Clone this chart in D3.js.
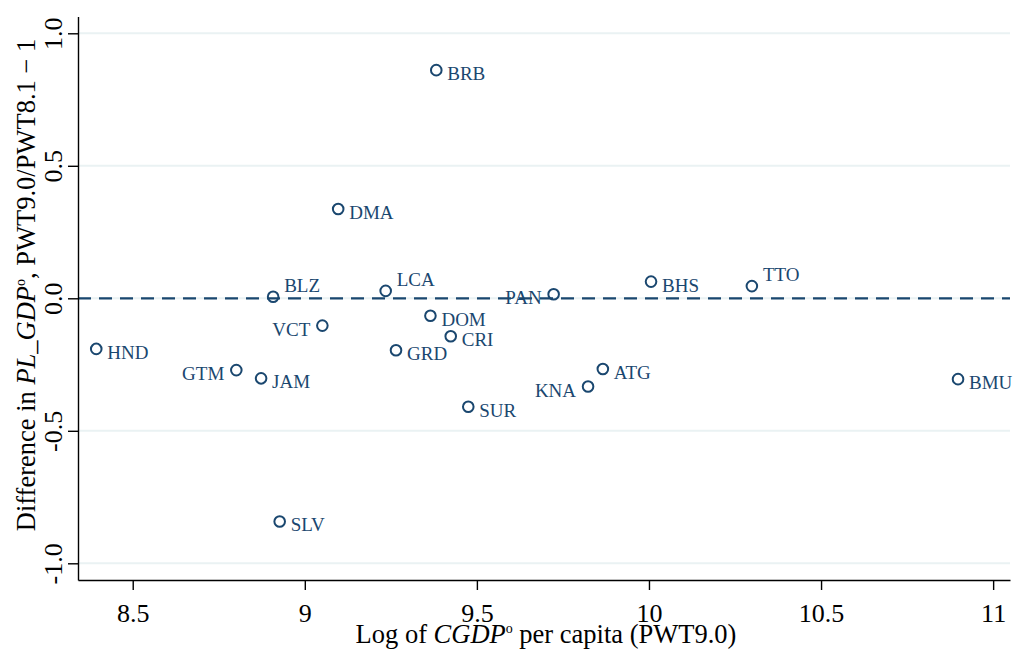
<!DOCTYPE html>
<html>
<head>
<meta charset="utf-8">
<script src="https://cdn.jsdelivr.net/npm/d3@7"></script>
<style>
  body { margin: 0; background: #fff; }
  svg { display: block; font-family: "Liberation Serif", serif; }
</style>
</head>
<body>
<svg width="1016" height="650"></svg>
<script>
'use strict';

// country codes, log CGDPo per capita (PWT9.0), difference in PL_GDPo
const codes  = ["BRB", "DMA", "BLZ", "LCA", "PAN", "BHS", "TTO", "DOM", "VCT", "CRI",
                "HND", "GRD", "GTM", "JAM", "ATG", "BMU", "KNA", "SUR", "SLV"];
const lnGdp  = [9.382, 9.097, 8.908, 9.235, 9.723, 10.006, 10.299, 9.365, 9.051, 9.424,
                8.394, 9.265, 8.801, 8.873, 9.866, 10.898, 9.823, 9.475, 8.927];
const plDiff = [0.861, 0.337, 0.006, 0.028, 0.015, 0.063, 0.046, -0.066, -0.103, -0.143,
                -0.191, -0.196, -0.271, -0.302, -0.267, -0.305, -0.333, -0.409, -0.842];

const xTicks = [8.5, 9, 9.5, 10, 10.5, 11];
const xTickLabels = ["8.5", "9", "9.5", "10", "10.5", "11"];
const yTicks = [-1, -0.5, 0, 0.5, 1];
const yTickLabels = ["-1.0", "-0.5", "0.0", "0.5", "1.0"];

// where the marker label sits around the point
const labelLeft = ["GTM", "VCT", "KNA", "PAN"];
const labelUp = ["BLZ", "LCA", "TTO"];

const navy = "#1a476f";
const svg = d3.select("svg");

const plot = { left: 78, right: 1010, top: 16.6, bottom: 580 };

const x = d3.scaleLinear().domain([8.341, 11.049]).range([plot.left, plot.right]);
const y = d3.scaleLinear().domain([-1.063, 1.063]).range([plot.bottom, plot.top]);

// gridlines
svg.append("g")
  .selectAll("line")
  .data(yTicks)
  .join("line")
  .attr("x1", plot.left).attr("x2", plot.right)
  .attr("y1", d => y(d)).attr("y2", d => y(d))
  .attr("stroke", "#eaf2f3")
  .attr("stroke-width", 2);

// reference line at zero
svg.append("line")
  .attr("x1", plot.left).attr("x2", plot.right)
  .attr("y1", y(0)).attr("y2", y(0))
  .attr("stroke", navy)
  .attr("stroke-width", 2.2)
  .attr("stroke-dasharray", "13,8");

// axes
const yAxis = d3.axisLeft(y)
  .tickValues(yTicks)
  .tickFormat((d, i) => yTickLabels[i])
  .tickSize(10)
  .tickSizeOuter(0);

const gy = svg.append("g")
  .attr("transform", "translate(" + plot.left + ",0)")
  .call(yAxis);
gy.select(".domain").attr("stroke-width", 1.4);
gy.selectAll(".tick line").attr("stroke-width", 1.4);
gy.selectAll(".tick text")
  .attr("transform", "rotate(-90)")
  .attr("x", 0)
  .attr("y", -16)
  .attr("dy", 0)
  .style("text-anchor", "middle")
  .style("font-size", "26px")
  .style("font-family", "Liberation Serif")
  .attr("fill", "#000");

const xAxis = d3.axisBottom(x)
  .tickValues(xTicks)
  .tickFormat((d, i) => xTickLabels[i])
  .tickSize(10)
  .tickSizeOuter(0);

const gx = svg.append("g")
  .attr("transform", "translate(0," + plot.bottom + ")")
  .call(xAxis);
gx.select(".domain").attr("stroke-width", 1.4);
gx.selectAll(".tick line").attr("stroke-width", 1.4);
gx.selectAll(".tick text")
  .attr("y", 42)
  .attr("dy", 0)
  .style("font-size", "26px")
  .style("font-family", "Liberation Serif")
  .attr("fill", "#000");

// axis titles
const xTitle = svg.append("text")
  .attr("x", 546)
  .attr("y", 643)
  .style("text-anchor", "middle")
  .style("font-size", "26.5px");
xTitle.append("tspan").text("Log of ");
xTitle.append("tspan").style("font-style", "italic").text("CGDP");
xTitle.append("tspan").attr("dy", -10).style("font-size", "14px").text("o");
xTitle.append("tspan").attr("dy", 10).text(" per capita (PWT9.0)");

const yTitle = svg.append("text")
  .attr("transform", "translate(35,285) rotate(-90)")
  .style("text-anchor", "middle")
  .style("font-size", "26.5px");
yTitle.append("tspan").text("Difference in ");
yTitle.append("tspan").style("font-style", "italic").text("PL_GDP");
yTitle.append("tspan").attr("dy", -10).style("font-size", "14px").text("o");
yTitle.append("tspan").attr("dy", 10).text(", PWT9.0/PWT8.1 \u2212 1");

// points
const pts = codes.map((c, i) => ({ code: c, gx: lnGdp[i], gy: plDiff[i] }));

svg.append("g")
  .selectAll("circle")
  .data(pts)
  .join("circle")
  .attr("cx", d => x(d.gx))
  .attr("cy", d => y(d.gy))
  .attr("r", 5.3)
  .attr("fill", "none")
  .attr("stroke", navy)
  .attr("stroke-width", 2);

svg.append("g")
  .selectAll("text")
  .data(pts)
  .join("text")
  .attr("x", d => labelLeft.includes(d.code) ? x(d.gx) - 12 : x(d.gx) + 11)
  .attr("y", d => labelUp.includes(d.code) ? y(d.gy) - 5 : y(d.gy) + 10)
  .style("text-anchor", d => labelLeft.includes(d.code) ? "end" : "start")
  .style("font-size", "19px")
  .attr("fill", navy)
  .text(d => d.code);
</script>
</body>
</html>
